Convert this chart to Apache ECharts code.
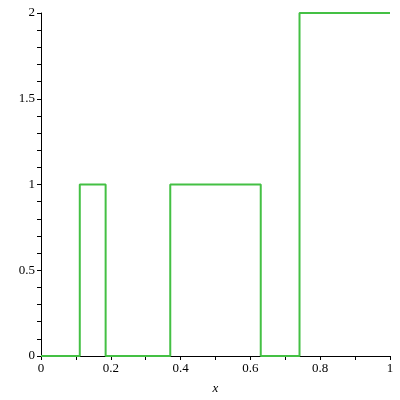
<!DOCTYPE html>
<html>
<head>
<meta charset="utf-8">
<script src="https://cdn.jsdelivr.net/npm/echarts@6/dist/echarts.min.js"></script>
<style>
  html, body { margin: 0; padding: 0; background: #fff; }
  #chart { width: 400px; height: 400px; }
</style>
</head>
<body>
<div id="chart"></div>
<script>
// breakpoints of the step function and the level held from each one
var xBreaks = [0, 1 / 9, 5 / 27, 10 / 27, 17 / 27, 20 / 27, 1];
var yLevels = [0, 1, 0, 1, 0, 2, 2];
var xTicks = [0, 0.2, 0.4, 0.6, 0.8, 1];
var yTicks = [0, 0.5, 1, 1.5, 2];

var chart = echarts.init(document.getElementById("chart"));
var fontFam = "'Liberation Serif', 'Times New Roman', serif";

chart.setOption({
  animation: false,
  grid: {
    left: 41,
    right: 10,
    top: 13,
    bottom: 43,
  },
  xAxis: {
    type: "value",
    min: xTicks[0],
    max: xTicks[xTicks.length - 1],
    interval: 0.2,
    name: "x",
    nameLocation: "middle",
    nameGap: 26,
    nameTextStyle: {
      fontFamily: fontFam,
      fontStyle: "italic",
      fontSize: 13,
      color: "#000",
    },
    axisLine: { lineStyle: { color: "#000", width: 1 } },
    axisTick: { length: 4, lineStyle: { color: "#000" } },
    minorTick: { show: true, splitNumber: 2, length: 4, lineStyle: { color: "#000" } },
    splitLine: { show: false },
    axisLabel: {
      fontFamily: fontFam,
      fontSize: 13,
      color: "#000",
      margin: 6,
      formatter: function (v) {
        return String(+v.toFixed(1));
      },
    },
  },
  yAxis: {
    type: "value",
    min: yTicks[0],
    max: yTicks[yTicks.length - 1],
    interval: 0.5,
    axisLine: { show: true, lineStyle: { color: "#000", width: 1 } },
    axisTick: { show: true, length: 4, lineStyle: { color: "#000" } },
    minorTick: { show: true, splitNumber: 5, length: 4, lineStyle: { color: "#000" } },
    splitLine: { show: false },
    axisLabel: {
      fontFamily: fontFam,
      fontSize: 13,
      color: "#000",
      margin: 6,
    },
  },
  series: [
    {
      type: "line",
      step: "end",
      data: xBreaks.map(function (x, i) {
        return [x, yLevels[i]];
      }),
      showSymbol: false,
      lineStyle: { color: "#44c044", width: 2 },
    },
  ],
});
</script>
</body>
</html>
